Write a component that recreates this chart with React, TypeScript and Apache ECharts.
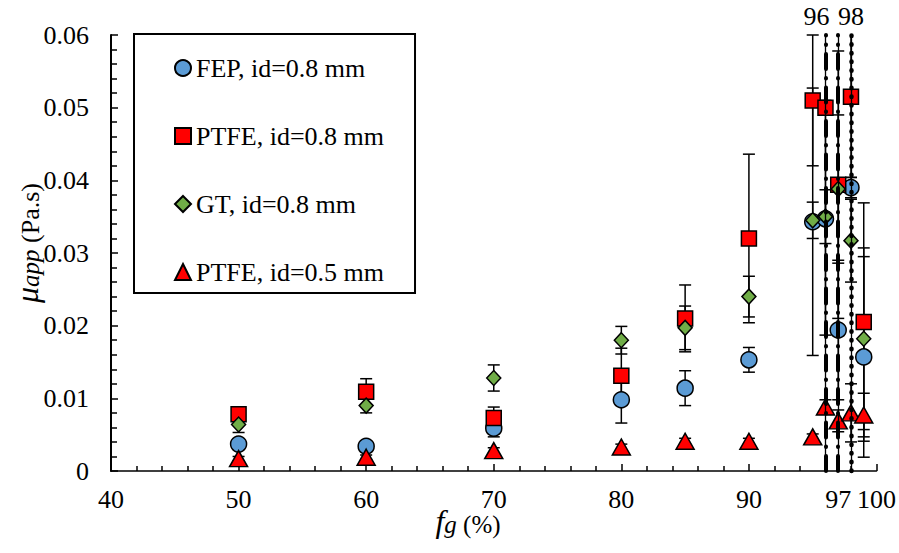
import React, { useEffect, useRef } from 'react';
import * as echarts from 'echarts';

// gas fraction f_g (%)
const fg = [50, 60, 70, 80, 85, 90, 95, 96, 97, 98, 99];

// apparent viscosity (Pa.s) and error half-widths
const fepMu = [0.0037, 0.0034, 0.0059, 0.0098, 0.0114, 0.0153, 0.0343, 0.0347, 0.0194, 0.039, 0.0157];
const fepErr = [0.0005, 0.0005, 0.0012, 0.0032, 0.0024, 0.0017, 0.0184, 0.016, 0.0096, 0.0014, 0.0138];

const ptfe08Mu = [0.0078, 0.0109, 0.0073, 0.0131, 0.021, 0.032, 0.051, 0.05, 0.0394, 0.0515, 0.0205];
const ptfe08Err = [0.0005, 0.0018, 0.0015, 0.0038, 0.0046, 0.0116, 0.009, 0.001, 0.0184, 0.0111, 0.0164];

const gtMu = [0.0064, 0.009, 0.0128, 0.018, 0.0197, 0.024, 0.0345, 0.035, 0.0388, 0.0317, 0.0182];
const gtErr = [0.0011, 0.001, 0.0018, 0.0019, 0.003, 0.0028, 0.0025, 0.0037, 0.0102, 0.0057, 0.0125];

const ptfe05Mu = [0.0017, 0.0019, 0.0028, 0.0033, 0.0041, 0.0041, 0.0047, 0.0088, 0.0069, 0.008, 0.0077];
const ptfe05Err = [0.0003, 0.0003, 0.0004, 0.0004, 0.0004, 0.0004, 0.0004, 0.001, 0.0015, 0.004, 0.003];

const seriesNames = ['FEP, id=0.8 mm', 'PTFE, id=0.8 mm', 'GT, id=0.8 mm', 'PTFE, id=0.5 mm'];

// axis labels
const xLabelValues = [40, 50, 60, 70, 80, 90, 97, 100];
const topLabelValues = [96, 98];
const dashDotLinesAt = [96, 97];
const dottedLinesAt = [98];

const FONT = "'Liberation Serif', 'Times New Roman', serif";
const Y_MAX = 0.06;

function errorSeries(name: string, mu: number[], err: number[]) {
  return {
    type: 'custom',
    name,
    z: 2,
    data: fg.map((x, i) => [x, mu[i], err[i]]),
    encode: { x: 0, y: 1 },
    renderItem: (_params: any, api: any) => {
      const x = api.value(0);
      const y = api.value(1);
      const e = api.value(2);
      const hiV = Math.min(y + e, Y_MAX);
      const loV = Math.max(y - e, 0);
      const pHi = api.coord([x, hiV]);
      const pLo = api.coord([x, loV]);
      const st = { stroke: '#000', lineWidth: 1.5 };
      const children: any[] = [
        { type: 'line', shape: { x1: pHi[0], y1: pHi[1], x2: pLo[0], y2: pLo[1] }, style: st },
      ];
      if (y + e <= Y_MAX) {
        children.push({ type: 'line', shape: { x1: pHi[0] - 6, y1: pHi[1], x2: pHi[0] + 6, y2: pHi[1] }, style: st });
      }
      if (y - e >= 0) {
        children.push({ type: 'line', shape: { x1: pLo[0] - 6, y1: pLo[1], x2: pLo[0] + 6, y2: pLo[1] }, style: st });
      }
      return { type: 'group', children };
    },
  };
}

function scatterSeries(name: string, mu: number[], symbol: string, size: any, color: string) {
  return {
    type: 'scatter',
    name,
    z: 3,
    symbol,
    symbolSize: size,
    data: fg.map((x, i) => [x, mu[i]]),
    itemStyle: { color, borderColor: '#000', borderWidth: 1.5, opacity: 1 },
    emphasis: { disabled: true },
  };
}

export default function App() {
  const ref = useRef<HTMLDivElement>(null);

  useEffect(() => {
    const chart = echarts.init(ref.current!, null, { renderer: 'svg' });

    const guideLines: any[] = [];
    dashDotLinesAt.forEach((x) => {
      guideLines.push([
        { coord: [x, 0], lineStyle: { color: '#000', width: 1.3, type: 'solid' } },
        { coord: [x, Y_MAX] },
      ]);
      guideLines.push([
        { coord: [x, 0], lineStyle: { color: '#000', width: 4, type: [15, 9, 0.5, 9], cap: 'round' } },
        { coord: [x, Y_MAX] },
      ]);
    });
    dottedLinesAt.forEach((x) => {
      guideLines.push([
        { coord: [x, 0], lineStyle: { color: '#000', width: 1.3, type: 'solid' } },
        { coord: [x, Y_MAX] },
      ]);
      guideLines.push([
        { coord: [x, 0], lineStyle: { color: '#000', width: 4.5, type: [0.5, 8.2], cap: 'round' } },
        { coord: [x, Y_MAX] },
      ]);
    });

    const option: any = {
      animation: false,
      backgroundColor: '#fff',
      textStyle: { fontFamily: FONT },
      grid: { left: 111, right: 21, top: 35, bottom: 82, containLabel: false },
      legend: {
        orient: 'vertical',
        left: 134,
        top: 34,
        data: seriesNames,
        borderColor: '#000',
        borderWidth: 2,
        padding: [21, 31, 8, 40],
        itemGap: 42,
        itemWidth: 16,
        itemHeight: 16,
        selectedMode: false,
        textStyle: { fontSize: 26, color: '#000', fontFamily: FONT },
      },
      xAxis: [
        {
          type: 'value',
          min: 40,
          max: 100,
          interval: 10,
          axisLine: { show: true, lineStyle: { color: '#000', width: 1.5 } },
          axisTick: { show: true, inside: true, length: 7, lineStyle: { color: '#000', width: 1.5 } },
          minorTick: { show: true, splitNumber: 5, length: 5, lineStyle: { color: '#000', width: 1.5 } },
          splitLine: { show: false },
          minorSplitLine: { show: false },
          axisLabel: {
            customValues: xLabelValues,
            fontSize: 26,
            lineHeight: 20,
            color: '#000',
            fontFamily: FONT,
            margin: 18,
            formatter: (v: number) => String(v),
          },
        },
        {
          type: 'value',
          position: 'top',
          min: 40,
          max: 100,
          interval: 10,
          axisLine: { show: false },
          axisTick: { show: false },
          splitLine: { show: false },
          axisLabel: {
            customValues: topLabelValues,
            fontSize: 26,
            color: '#000',
            fontFamily: FONT,
            margin: 6,
            formatter: (v: number) => (v === 96 ? '{l|96}' : '{n|' + v + '}'),
            rich: {
              l: { fontSize: 26, fontFamily: FONT, color: '#000', padding: [0, 18, 0, 0] },
              n: { fontSize: 26, fontFamily: FONT, color: '#000' },
            },
          },
        },
      ],
      yAxis: {
        type: 'value',
        min: 0,
        max: Y_MAX,
        interval: 0.01,
        axisLine: { show: true, lineStyle: { color: '#000', width: 2 } },
        axisTick: { show: true, inside: true, length: 7, lineStyle: { color: '#000', width: 1.5 } },
        minorTick: { show: true, splitNumber: 5, length: 6, lineStyle: { color: '#000', width: 1.5 } },
        splitLine: { show: false },
        minorSplitLine: { show: false },
        axisLabel: {
          fontSize: 26,
          color: '#000',
          fontFamily: FONT,
          margin: 22,
          formatter: (v: number) => (Math.abs(v) < 1e-9 ? '0' : v.toFixed(2)),
        },
      },
      graphic: [
        {
          type: 'text',
          x: 26,
          y: 243,
          rotation: Math.PI / 2,
          style: {
            text: '{m|μ}{s|app}{u| (Pa.s)}',
            align: 'center',
            verticalAlign: 'middle',
            fill: '#000',
            rich: {
              m: { fontSize: 32, fontStyle: 'italic', fontFamily: FONT, lineHeight: 34, verticalAlign: 'bottom', fill: '#000' },
              s: { fontSize: 25, fontStyle: 'italic', fontFamily: FONT, lineHeight: 17, verticalAlign: 'bottom', fill: '#000' },
              u: { fontSize: 26, fontFamily: FONT, lineHeight: 30, verticalAlign: 'bottom', fill: '#000' },
            },
          },
        },
        {
          type: 'text',
          x: 468,
          y: 526,
          style: {
            text: '{f|f}{g|g}{u| (%)}',
            align: 'center',
            verticalAlign: 'middle',
            fill: '#000',
            rich: {
              f: { fontSize: 32, fontStyle: 'italic', fontFamily: FONT, lineHeight: 22, verticalAlign: 'bottom', fill: '#000' },
              g: { fontSize: 25, fontStyle: 'italic', fontFamily: FONT, lineHeight: 9, verticalAlign: 'bottom', fill: '#000' },
              u: { fontSize: 25, fontFamily: FONT, lineHeight: 19, verticalAlign: 'bottom', fill: '#000' },
            },
          },
        },
      ],
      series: [
        {
          type: 'line',
          name: 'guides',
          data: [],
          z: 1,
          markLine: {
            silent: true,
            symbol: ['none', 'none'],
            label: { show: false },
            emphasis: { disabled: true },
            data: guideLines,
          },
        },
        errorSeries('e1', fepMu, fepErr),
        errorSeries('e2', ptfe08Mu, ptfe08Err),
        errorSeries('e3', gtMu, gtErr),
        errorSeries('e4', ptfe05Mu, ptfe05Err),
        scatterSeries(seriesNames[0], fepMu, 'circle', 16, '#5B9BD5'),
        scatterSeries(seriesNames[1], ptfe08Mu, 'rect', 15, '#FF0000'),
        scatterSeries(seriesNames[2], gtMu, 'diamond', [14, 15], '#70AD47'),
        scatterSeries(seriesNames[3], ptfe05Mu, 'triangle', [18, 16], '#FF0000'),
      ],
    };

    chart.setOption(option);
    return () => chart.dispose();
  }, []);

  return (
    <div
      ref={ref}
      style={{ position: 'absolute', left: 0, top: 0, width: 899, height: 553, background: '#fff' }}
    />
  );
}
